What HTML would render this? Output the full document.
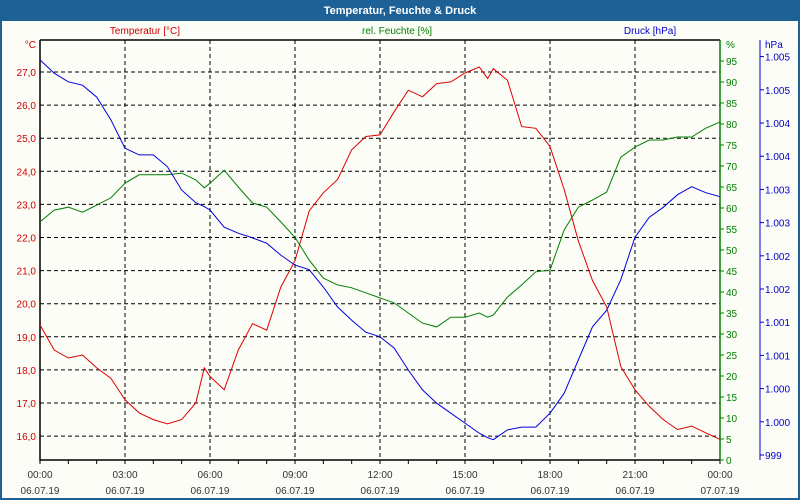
<!DOCTYPE html>
<html><head><meta charset="utf-8"><style>
body{margin:0;background:#fff}
svg{display:block;font-family:"Liberation Sans",sans-serif}
</style></head><body>
<svg width="800" height="500" viewBox="0 0 800 500">
<rect x="0" y="0" width="800" height="500" fill="#1d6196"/>
<rect x="2" y="21" width="796" height="477" fill="#fdfdf7"/>
<text x="400" y="14" text-anchor="middle" fill="#fff" font-size="11" font-weight="bold">Temperatur, Feuchte &amp; Druck</text>
<text x="145" y="34" text-anchor="middle" fill="#cc0000" font-size="10">Temperatur [°C]</text>
<text x="397" y="34" text-anchor="middle" fill="#008000" font-size="10">rel. Feuchte [%]</text>
<text x="650" y="34" text-anchor="middle" fill="#0000cc" font-size="10">Druck [hPa]</text>
<g id="grid"></g>
<g id="axes"></g>
<g id="series"></g>
</svg>
<script>
const hours=[0,0.5,1,1.5,2,2.5,3,3.5,4,4.5,5,5.5,5.8,6,6.5,7,7.5,8,8.5,9,9.5,10,10.5,11,11.5,12,12.5,13,13.5,14,14.5,15,15.5,15.8,16,16.5,17,17.5,18,18.5,19,19.5,20,20.5,21,21.5,22,22.5,23,23.5,24];
const temperature=[19.36,18.6,18.36,18.45,18.06,17.75,17.1,16.7,16.5,16.37,16.5,17.0,18.06,17.8,17.4,18.6,19.4,19.2,20.5,21.3,22.8,23.35,23.75,24.65,25.05,25.1,25.8,26.45,26.25,26.65,26.7,26.97,27.15,26.8,27.1,26.75,25.35,25.3,24.75,23.45,21.9,20.7,19.9,18.1,17.4,16.9,16.5,16.2,16.3,16.1,15.9];
const humidity=[56.7,59.5,60.2,59,60.7,62.4,65.9,67.9,67.9,67.9,68.3,66.7,64.8,65.9,69,65,61.2,60.2,56.7,53,47.6,43.3,41.7,41,39.8,38.6,37.4,35,32.6,31.7,34,34,35,34,34.5,38.8,41.7,44.8,45.2,54.8,60.2,61.9,63.8,72.1,74.5,76.2,76.2,76.9,76.9,79,80.5];
const pressure=[1004.95,1004.75,1004.62,1004.57,1004.39,1004.05,1003.62,1003.52,1003.52,1003.34,1002.99,1002.8,1002.74,1002.69,1002.43,1002.34,1002.27,1002.19,1002.01,1001.86,1001.79,1001.53,1001.23,1001.03,1000.85,1000.78,1000.61,1000.28,999.98,999.78,999.63,999.48,999.33,999.26,999.23,999.38,999.42,999.42,999.63,999.93,1000.43,1000.93,1001.18,1001.64,1002.28,1002.58,1002.73,1002.92,1003.04,1002.95,1002.89];
const tempTicks=[16,17,18,19,20,21,22,23,24,25,26,27];
const humTicks=[0,5,10,15,20,25,30,35,40,45,50,55,60,65,70,75,80,85,90,95];
const pressTicks=[999,999.5,1000,1000.5,1001,1001.5,1002,1002.5,1003,1003.5,1004,1004.5,1005];
const pressLabels=["999","1.000","1.000","1.001","1.001","1.002","1.002","1.003","1.003","1.004","1.004","1.005","1.005"];
const timeLabels=["00:00","03:00","06:00","09:00","12:00","15:00","18:00","21:00","00:00"];
const dateLabels=["06.07.19","06.07.19","06.07.19","06.07.19","06.07.19","06.07.19","06.07.19","06.07.19","07.07.19"];
const X0=40,X1=720,Y0=40,Y1=460;
const xS=h=>X0+h*(X1-X0)/24;
const yT=t=>72+(27-t)*33.1;
const yH=v=>460-v*4.2;
const yP=p=>455-(p-999)*66.4;
const NS="http://www.w3.org/2000/svg";
function mk(tag,attrs,parent,txt){const e=document.createElementNS(NS,tag);for(const k in attrs)e.setAttribute(k,attrs[k]);if(txt!==undefined)e.textContent=txt;parent.appendChild(e);return e;}
const grid=document.getElementById('grid'),axes=document.getElementById('axes'),series=document.getElementById('series');
tempTicks.forEach(t=>{const y=yT(t);
 const l=mk('line',{x1:X0,x2:X1,y1:y,y2:y,stroke:'#000','stroke-dasharray':'4,3','stroke-width':1},grid);
 
 
 const tx=mk('text',{x:36,y:y+4,'text-anchor':'end',fill:'#cc0000','font-size':10},axes,t.toFixed(1).replace('.',','));
 
 
});
const tu=mk('text',{x:36,y:48,'text-anchor':'end',fill:'#cc0000','font-size':10},axes,'°C');


timeLabels.forEach((s,i)=>{const x=xS(i*3);
 if(i>0&&i<8){const l=mk('line',{x1:x,x2:x,y1:Y0,y2:Y1,stroke:'#000','stroke-dasharray':'4,3'},grid);
 
 }
 const a=mk('text',{x:x,y:478,'text-anchor':'middle',fill:'#333','font-size':10},axes,s);
 
 
 const b=mk('text',{x:x,y:494,'text-anchor':'middle',fill:'#333','font-size':10},axes,dateLabels[i]);
 
 
});
for(let h=0;h<=24;h++){const x=xS(h);const l=mk('line',{x1:x,x2:x,y1:Y1,y2:Y1+4,stroke:'#000'},axes);
 
 }
const fr=mk('path',{d:`M${X0},${Y0}H${X1}M${X0},${Y0}V${Y1}H${X1}`,stroke:'#000','stroke-width':1.5,fill:'none'},axes);


const ha=mk('line',{x1:X1,x2:X1,y1:Y0,y2:Y1,stroke:'#008000','stroke-width':1.5},axes);


humTicks.forEach(v=>{const y=yH(v);
 const l=mk('line',{x1:X1,x2:X1+4,y1:y,y2:y,stroke:'#008000'},axes);
 
 
 const t=mk('text',{x:X1+6,y:y+4,fill:'#008000','font-size':10},axes,String(v));
 
 
});
const hu=mk('text',{x:X1+6,y:48,fill:'#008000','font-size':10},axes,'%');


const pa=mk('line',{x1:760,x2:760,y1:Y0,y2:Y1,stroke:'#0000cc'},axes);


pressTicks.forEach((p,i)=>{const y=yP(p);
 const l=mk('line',{x1:760,x2:764,y1:y,y2:y,stroke:'#0000cc'},axes);
 
 
 const t=mk('text',{x:765,y:y+4,fill:'#0000cc','font-size':10},axes,pressLabels[i]);
 
 
});
const pu=mk('text',{x:765,y:48,fill:'#0000cc','font-size':10},axes,'hPa');


function line(vals,yf,color,name){const d=vals.map((v,i)=>(i?'L':'M')+xS(hours[i]).toFixed(1)+','+yf(v).toFixed(1)).join('');
 const p=mk('path',{d:d,stroke:color,'stroke-width':1,fill:'none'},series);
 
 }
line(humidity,yH,'#008000','humidity-line');
line(pressure,yP,'#0000dd','pressure-line');
line(temperature,yT,'#dd0000','temperature-line');
</script>
</body></html>
